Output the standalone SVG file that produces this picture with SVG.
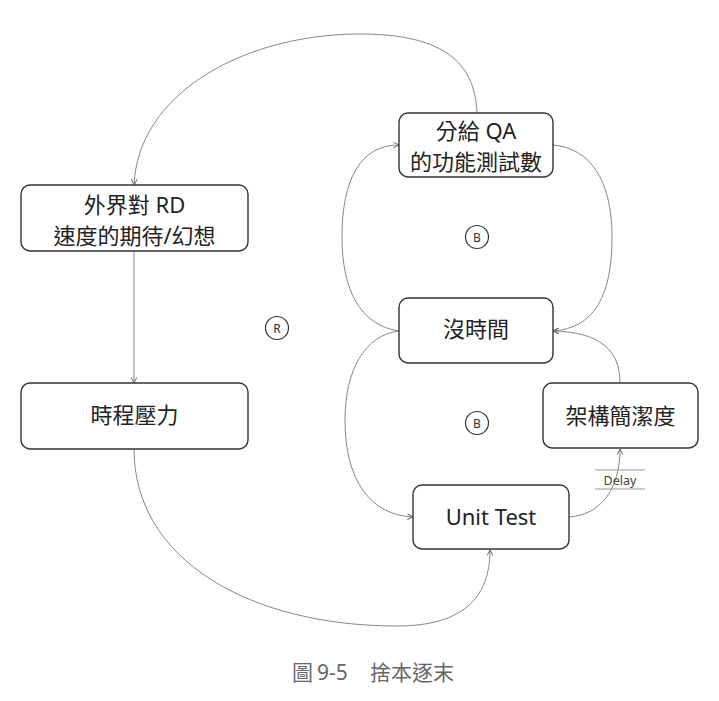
<svg xmlns="http://www.w3.org/2000/svg" width="719" height="701" viewBox="0 0 719 701">
<style>
.node rect{fill:#fff;stroke:#333;stroke-width:1.4}
.node text{font-family:"Noto Sans","Noto Sans CJK TC",sans-serif;font-size:22px;fill:#222;text-anchor:middle;dominant-baseline:central}
.conn path{fill:none;stroke:#888;stroke-width:1}
.loop circle{fill:#fff;stroke:#333;stroke-width:1.2}
.loop text{font-family:"Noto Sans",sans-serif;font-size:12px;fill:#333;text-anchor:middle;dominant-baseline:central}
.delay line{stroke:#999;stroke-width:1}
.delay text{font-family:"Noto Sans",sans-serif;font-size:12.5px;fill:#444;text-anchor:middle}
.cap{font-family:"Noto Sans","Noto Sans CJK TC",sans-serif;font-size:21px;fill:#666}
</style>
<defs>
<marker id="arr" viewBox="0 0 10 10" refX="9" refY="5" markerWidth="7" markerHeight="7" orient="auto-start-reverse" markerUnits="userSpaceOnUse">
<path d="M1 1 L9 5 L1 9" fill="none" stroke="#666" stroke-width="1.4"/>
</marker>
</defs>
<rect width="719" height="701" fill="#fff"/>
<g class="conn">
<path d="M477 113 C475 60 440 33 355 34 C240 36 138 95 134 185" marker-end="url(#arr)"/>
<path d="M134 251 L134 383" marker-end="url(#arr)"/>
<path d="M134 449 C134 560 250 626 397 626 C460 626 490 600 490 550" marker-end="url(#arr)"/>
<path d="M399 331 C360 325 342 290 342 237 C342 180 360 145 399 145" marker-end="url(#arr)"/>
<path d="M553 145 C590 148 612 180 612 237 C612 295 595 328 553 331" marker-end="url(#arr)"/>
<path d="M399 331 C365 335 345 370 345 420 C345 480 370 515 413 517" marker-end="url(#arr)"/>
<path d="M620 383 C620 350 600 332 553 331" marker-end="url(#arr)"/>
<path d="M569 517 C600 515 620 490 620 449" marker-end="url(#arr)"/>
</g>
<g id="n1" class="node"><rect x="21" y="185" width="227" height="66" rx="9"/><text x="134.5" y="204">外界對 RD</text><text x="134.5" y="235">速度的期待/幻想</text></g>
<g id="n2" class="node"><rect x="21" y="383" width="227" height="66" rx="9"/><text x="134.5" y="414">時程壓力</text></g>
<g id="n3" class="node"><rect x="399" y="113" width="154" height="64" rx="9"/><text x="476" y="130">分給 QA</text><text x="476" y="161">的功能測試數</text></g>
<g id="n4" class="node"><rect x="399" y="298" width="154" height="65" rx="9"/><text x="476" y="328">沒時間</text></g>
<g id="n5" class="node"><rect x="543" y="383" width="155" height="65" rx="9"/><text x="620.5" y="415">架構簡潔度</text></g>
<g id="n6" class="node"><rect x="413" y="485" width="156" height="64" rx="9"/><text x="491" y="516">Unit Test</text></g>
<g id="delay" class="delay"><line x1="595" y1="470" x2="645" y2="470"/><line x1="595" y1="489" x2="645" y2="489"/><text x="620" y="485">Delay</text></g>
<g id="loopR" class="loop"><circle cx="277" cy="328" r="11.5"/><text x="277" y="328">R</text></g>
<g id="loopB1" class="loop"><circle cx="477" cy="237" r="11.5"/><text x="477" y="237">B</text></g>
<g id="loopB2" class="loop"><circle cx="477" cy="423" r="11.5"/><text x="477" y="423">B</text></g>
<text class="cap" y="680"><tspan x="292">圖</tspan><tspan x="317">9-5</tspan><tspan x="370">捨本逐末</tspan></text>
</svg>
